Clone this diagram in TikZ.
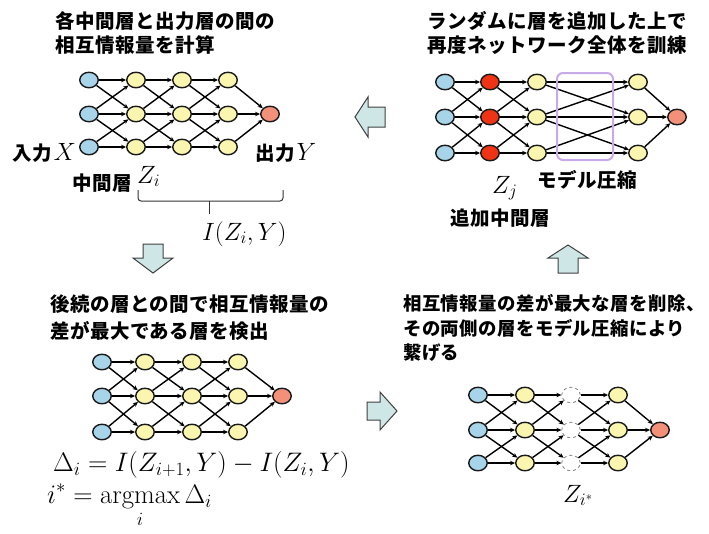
\RequirePackage{fix-cm}
\documentclass[tikz,border=0pt]{standalone}
\usepackage{amsmath}
\usepackage{graphicx}
\usepackage{fontspec}
\usetikzlibrary{arrows.meta,shapes.geometric}
\newfontfamily\jpfont{Noto Sans CJK JP}[LetterSpace=2.5]
\definecolor{nblue}{HTML}{A8D4EA}
\definecolor{nyellow}{HTML}{FAF6B0}
\definecolor{nsalmon}{HTML}{F3907A}
\definecolor{nred}{HTML}{EE3414}
\definecolor{arrowfill}{HTML}{CFE6E6}
\definecolor{arrowline}{HTML}{404040}
\definecolor{boxpurple}{HTML}{C9AAE8}
\newcommand\mknet[4]{%
  \foreach \c/\x/\s in {#2} {\foreach \r/\y in {#3} {\node[\s] (#1\c\r) at (\x,\y) {};}}
  \node[outp] (#1o) at #4 {};
  \foreach \c/\n in {0/1,1/2,2/3} {
    \foreach \r in {0,1,2} {\draw[edge] (#1\c\r) -- (#1\n\r);}
    \draw[edge] (#1\c0) -- (#1\n1);
    \draw[edge] (#1\c1) -- (#1\n0);
    \draw[edge] (#1\c1) -- (#1\n2);
    \draw[edge] (#1\c2) -- (#1\n1);
  }
  \foreach \r in {0,1,2} {\draw[edge] (#13\r) -- (#1o);}
}
\begin{document}
\begin{tikzpicture}[x=1pt,y=-1pt,
  nd/.style={ellipse, draw=black!90, line width=1.4pt, minimum width=18.5pt, minimum height=15.5pt, inner sep=0pt},
  inp/.style={nd, fill=nblue},
  hid/.style={nd, fill=nyellow},
  outp/.style={nd, fill=nsalmon},
  redn/.style={nd, fill=nred},
  gone/.style={nd, draw=gray, dashed, line width=0.8pt, fill=white},
  edge/.style={line width=1.4pt, -{Stealth[length=5pt,width=4.5pt]}},
  jp/.style={font=\jpfont\bfseries\fontsize{19.5}{22}\selectfont, inner sep=0pt},
  jps/.style={font=\jpfont\bfseries\fontsize{18.4}{22}\selectfont, inner sep=0pt},
  mth/.style={font=\fontsize{25}{29}\selectfont, inner sep=0pt},
  bigarrow/.style={fill=arrowfill, draw=arrowline, line width=1pt, line join=miter}]
\useasboundingbox[fill=white] (0,0) rectangle (709,533);

% ---------- top left ----------
\node[jp, anchor=base west] (tla) at (55,28.4) {各中間層と出力層の間の};
\node[jp, anchor=base west] (tlb) at (55,52.4) {相互情報量を計算};
\mknet{A}{0/89/inp,1/136/hid,2/182/hid,3/228/hid}{0/80,1/114,2/147}{(270,114)}
\node[jp, anchor=base west] (inX) at (12,160.5) {入力\hspace{2pt}{\fontsize{25}{29}\selectfont$X$}};
\node[jp, anchor=base west] (outY) at (255,160.5) {出力\hspace{2pt}{\fontsize{25}{29}\selectfont$Y$}};
\node[jp, anchor=base west] (midl) at (72,190.4) {中間層};
\node[mth, anchor=base west] (Zi) at (137,183) {$Z_i$};
\draw[line width=1pt, black!80, rounded corners=3pt] (138,190) -- (138,201) -- (283,201) -- (283,190);
\draw[line width=1pt, black!80] (209,201) -- (209,214);
\node[mth, anchor=base west] (IZY) at (202,240) {$I(Z_i,Y)$};

% ---------- top right ----------
\node[jp, anchor=base west] (tra) at (427,28.4) {ランダムに層を追加した上で};
\node[jp, anchor=base west] (trb) at (427,52.4) {再度ネットワーク全体を訓練};
\mknet{B}{0/445/inp,1/490/redn,2/537/hid,3/638/hid}{0/82,1/117,2/153}{(677,117)}
\draw[boxpurple, line width=2pt, rounded corners=6pt] (557,73) rectangle (613,160);
\node[mth, anchor=base west] (Zj) at (492,193) {$Z_j$};
\node[jp, anchor=base west] (comp) at (537,187.4) {モデル圧縮};
\node[jp, anchor=base west] (addl) at (450,225.4) {追加中間層};

% ---------- bottom left ----------
\node[jp, anchor=base west] (bla) at (50,311.4) {後続の層との間で相互情報量の};
\node[jp, anchor=base west] (blb) at (50,338) {差が最大である層を検出};
\mknet{C}{0/102/inp,1/145/hid,2/192/hid,3/238/hid}{0/362,1/396,2/432}{(282,396)}
\node[mth, anchor=base west, align=left] (eqs) at (53,503.5)
  {\scalebox{1.07}{$\Delta_i = I(Z_{i+1},Y) - I(Z_i,Y)$}\\[3.5pt]
   \hspace*{-6pt}\scalebox{1.07}{$\displaystyle i^{*} = \operatorname*{argmax}_{i} \Delta_i$}};

% ---------- bottom right ----------
\node[jps, anchor=base west] (bra) at (403,310.4) {相互情報量の差が最大な層を削除、};
\node[jps, anchor=base west] (brb) at (403,335.4) {その両側の層をモデル圧縮により};
\node[jps, anchor=base west] (brc) at (403,359.4) {繋げる};
\mknet{D}{0/478/inp,1/525/hid,2/571/gone,3/618/hid}{0/395,1/430,2/463}{(660,430)}
\node[mth, anchor=base west] (Zis) at (563,502) {$Z_{i^{*}}$};

% ---------- big arrows ----------
\draw[bigarrow] (143,244) -- (163,244) -- (163,258) -- (173,258) -- (153,273) -- (133,258) -- (143,258) -- cycle;
\draw[bigarrow] (558,273) -- (578,273) -- (578,258) -- (588,258) -- (568,245) -- (548,258) -- (558,258) -- cycle;
\draw[bigarrow] (385,107) -- (385,127) -- (368,127) -- (368,137) -- (355,117) -- (368,97) -- (368,107) -- cycle;
\draw[bigarrow] (367,402) -- (367,420) -- (380,420) -- (380,430) -- (397,411) -- (380,392) -- (380,402) -- cycle;
\end{tikzpicture}
\end{document}
